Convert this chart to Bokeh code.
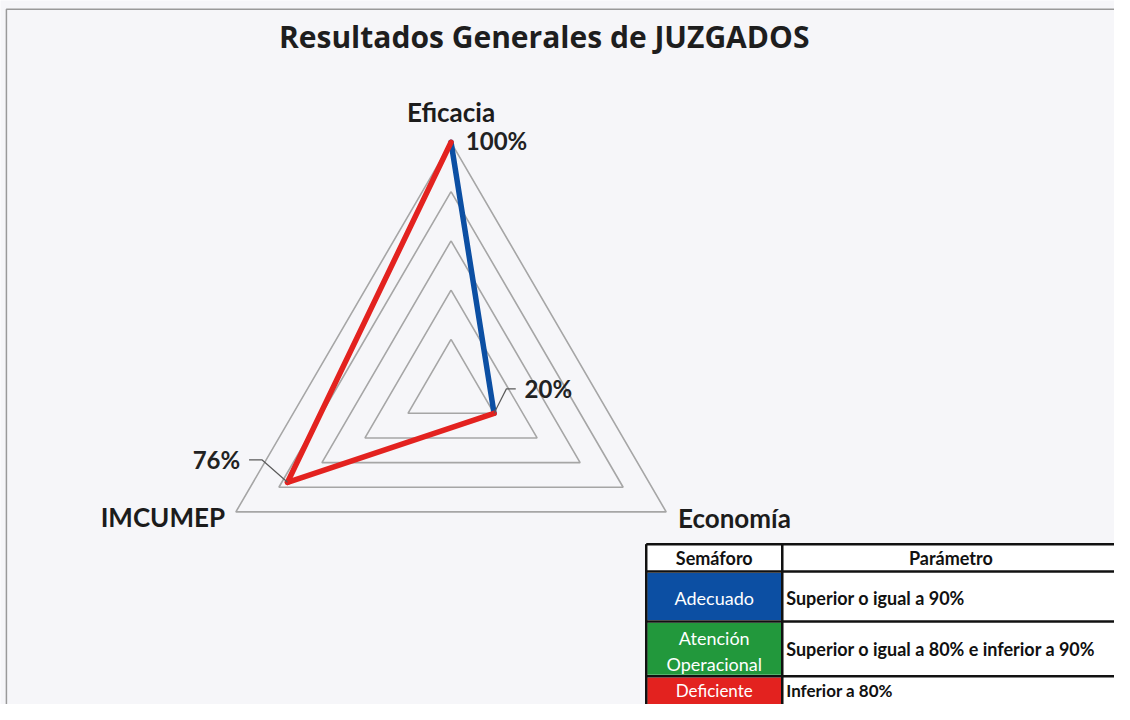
import numpy as np
from bokeh.plotting import figure
from bokeh.models import Range1d
from bokeh.core.properties import value
from bokeh.embed import file_html
from bokeh.resources import INLINE

# ---------------- data ----------------
title = "Resultados Generales de JUZGADOS"
axis_names = ["Eficacia", "Economía", "IMCUMEP"]
axis_angles_deg = [90, -30, 210]
scores = [100, 20, 76]
grid_levels = [20, 40, 60, 80, 100]

table_header = ["Semáforo", "Parámetro"]
semaforo = ["Adecuado", "Atención Operacional", "Deficiente"]
parametro = ["Superior o igual a 90%",
             "Superior o igual a 80% e inferior a 90%",
             "Inferior a 80%"]
semaforo_colors = ["#0c4fa3", "#22983c", "#e3221f"]
thresholds = [90, 80]  # >=90 adecuado, >=80 atencion, else deficiente

# ---------------- layout helpers ----------------
W, H = 1114, 704
REF_W, REF_H = 1130, 720
CX, CY, S = 457, 397, 252.0   # radar centre in reference pixels, pixels per 100 %


def px(x):
    return (x - CX) / S


def py(y):
    return (CY - y) / S


LATO = value("Lato")
OPEN = value("Open Sans")
BG = "#f6f6f9"

p = figure(width=W, height=H, output_backend="svg", toolbar_location=None,
           x_range=Range1d(px(0), px(REF_W)), y_range=Range1d(py(REF_H), py(0)),
           min_border=0, background_fill_color=BG, border_fill_color=BG,
           outline_line_color=None)
p.axis.visible = False
p.grid.visible = False

# scanned page frame
p.line([px(6), px(6), px(1140)], [py(730), py(9), py(9)],
       line_color="#9a9a9a", line_width=1.5)

ang = np.radians(axis_angles_deg)

# grid triangles
for lv in grid_levels:
    r = lv / 100.0
    xs = list(r * np.cos(ang)) + [r * np.cos(ang[0])]
    ys = list(r * np.sin(ang)) + [r * np.sin(ang[0])]
    p.line(xs, ys, line_color="#a6a6a6", line_width=1.6)


def cat_color(v):
    if v >= thresholds[0]:
        return semaforo_colors[0]
    if v >= thresholds[1]:
        return semaforo_colors[1]
    return semaforo_colors[2]


vals = np.array(scores) / 100.0
ptx = vals * np.cos(ang)
pty = vals * np.sin(ang)

# segments coloured by starting vertex
n = len(scores)
segs = [(i, (i + 1) % n) for i in range(n)]
order = sorted(segs, key=lambda s: 0 if cat_color(scores[s[0]]) == semaforo_colors[0] else 1)
for a, b in order:
    p.line([ptx[a], ptx[b]], [pty[a], pty[b]], line_color=cat_color(scores[a]),
           line_width=5.5, line_cap="round", line_join="round")

# data labels with leader lines (offsets in reference pixels)
lab_dx = [15, 31, -48]
lab_dy = [-2, -25, -23]
leader = [None, [(0, 0), (12.5, -25), (22, -25)], [(0, 0), (-26, -23), (-39, -23)]]
for i in range(n):
    txt = f"{scores[i]}%"
    if leader[i] is not None:
        lx = [ptx[i] + d[0] / S for d in leader[i]]
        ly = [pty[i] - d[1] / S for d in leader[i]]
        p.line(lx, ly, line_color="#5a5a5a", line_width=1.2)
    align = "right" if lab_dx[i] < 0 else "left"
    p.text([ptx[i] + lab_dx[i] / S], [pty[i] - lab_dy[i] / S], text=[txt],
           text_font=LATO, text_font_size="24px", text_font_style="bold",
           text_color="#222222", text_align=align, text_baseline="middle")

# axis names
name_dx = [0, 12, -11]
name_dy = [-31, 6, 5.5]
name_align = ["center", "left", "right"]
for i in range(n):
    p.text([np.cos(ang[i]) + name_dx[i] / S], [np.sin(ang[i]) - name_dy[i] / S],
           text=[axis_names[i]], text_font=LATO, text_font_size="26px",
           text_font_style="bold", text_color="#1c1c1c",
           text_align=name_align[i], text_baseline="middle")

# title
p.text([px(551.5)], [py(37)], text=[title], text_font=OPEN, text_font_size="30px",
       text_font_style="bold", text_color="#1e1e1e", text_align="center",
       text_baseline="middle")

# ---------------- semaforo table ----------------
TL, TC, TR = 655, 793, 1145
row_edges = [556, 584, 635, 691, 735]
p.quad(left=[px(TL)], right=[px(TR)], top=[py(row_edges[0])], bottom=[py(row_edges[-1])],
       fill_color="white", line_color=None)
for k in range(3):
    p.quad(left=[px(TL + 1)], right=[px(TC - 1)], top=[py(row_edges[k + 1] + 1.5)],
           bottom=[py(row_edges[k + 2] - 1.5)], fill_color=semaforo_colors[k], line_color=None)
for y in row_edges[:-1]:
    p.line([px(TL), px(TR)], [py(y), py(y)], line_color="#111111", line_width=2.5)
for x in [TL, TC]:
    p.line([px(x), px(x)], [py(row_edges[0]), py(row_edges[-1])], line_color="#111111",
           line_width=2.5)

p.text([px(724), px(964)], [py(570.5), py(570.5)], text=table_header,
       text_font=LATO, text_font_size="18px", text_font_style="bold",
       text_color="#111111", text_align="center", text_baseline="middle")

sem_lines = [[semaforo[0]], semaforo[1].split(" "), [semaforo[2]]]
sem_y = [[611], [651.5, 679], [705.5]]
sem_size = ["18px", "18px", "17px"]
for k in range(3):
    for j, yy in enumerate(sem_y[k]):
        p.text([px(724)], [py(yy)], text=[sem_lines[k][j]], text_font=LATO,
               text_font_size=sem_size[k], text_color="white", text_align="center",
               text_baseline="middle")

par_y = [611, 663.5, 705.5]
par_size = ["18px", "18px", "17px"]
for k in range(3):
    p.text([px(797)], [py(par_y[k])], text=[parametro[k]], text_font=LATO,
           text_font_size=par_size[k], text_font_style="bold", text_color="#111111",
           text_align="left", text_baseline="middle")

open("out.html", "w").write(file_html(p, INLINE))
